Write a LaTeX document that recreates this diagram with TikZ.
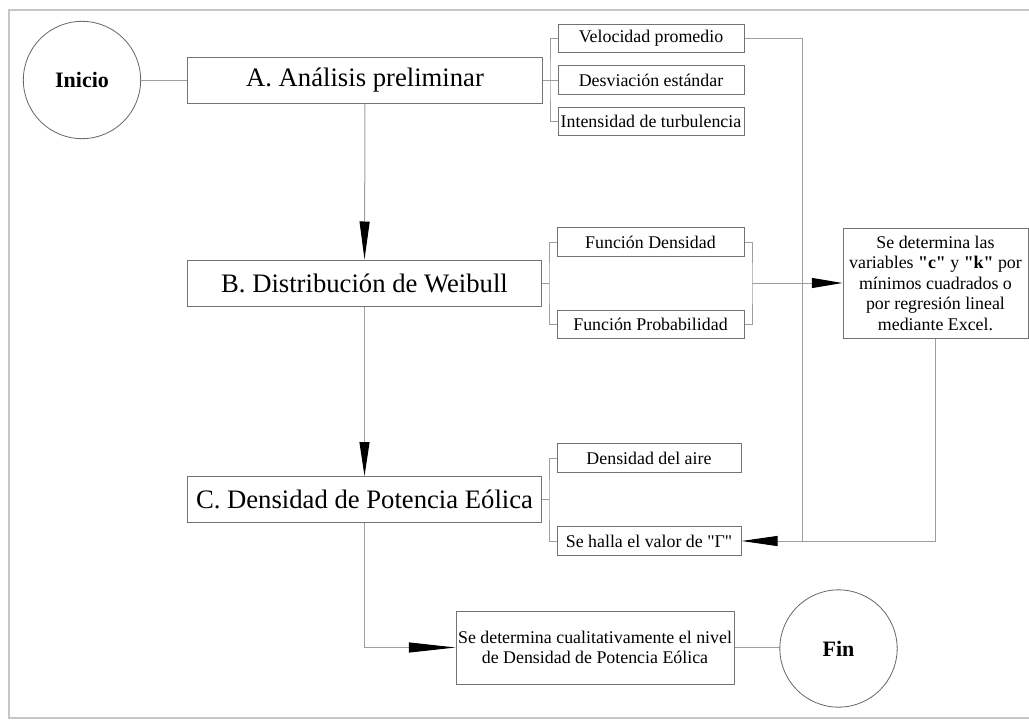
\documentclass[tikz,border=0pt]{standalone}
\usepackage{fontspec}
\setmainfont{Liberation Serif}
\usetikzlibrary{arrows.meta}
\newcommand{\sq}{\textquotedbl}
\begin{document}
\begin{tikzpicture}[x=0.75pt,y=-0.75pt,
  conn/.style={draw=black!38, line width=0.75pt},
  arrowto/.style={conn, -{Triangle[length=#1,width=7.5pt,color=black,fill=black]}},
  frameline/.style={draw=black!22, line width=1pt},
  box/.style={draw=black!55, line width=0.75pt, inner sep=0pt, align=center},
  bigbox/.style={box, minimum width=266pt, minimum height=34.5pt, font=\fontsize{20}{24}\selectfont},
  smallbox/.style={box, minimum width=139.5pt, minimum height=21.5pt, font=\fontsize{13.4}{15.4}\selectfont},
  endcircle/.style={circle, draw=black!60, line width=0.6pt, inner sep=0pt, minimum size=88pt, font=\fontsize{16.5}{18}\selectfont\bfseries}]
\useasboundingbox (0,0) rectangle (1029,721);
\draw[frameline] (1029,10) -- (9,10) -- (9,718) -- (1029,718);

% main nodes
\node[endcircle] (inicio) at (82,80) {Inicio};
\node[bigbox] (A) at (365,80) {A. Análisis preliminar};
\node[bigbox] (B) at (364.5,283) {B. Distribución de Weibull};
\node[bigbox] (C) at (364.5,499.5) {C. Densidad de Potencia Eólica};

% sub boxes
\node[smallbox] (vel) at (651,38.5) {Velocidad promedio};
\node[smallbox] (desv) at (651,80) {Desviación estándar};
\node[smallbox] (int) at (651,121.5) {Intensidad de turbulencia};
\node[smallbox, minimum width=140.25pt] (fden) at (650.5,242) {Función Densidad};
\node[smallbox, minimum width=140.25pt] (fprob) at (650.5,324.5) {Función Probabilidad};
\node[smallbox, minimum width=138pt] (daire) at (649,458) {Densidad del aire};
\node[smallbox, minimum width=138pt] (halla) at (649,541) {Se halla el valor de \sq Γ\sq};

\node[box, minimum width=138.75pt, minimum height=82.5pt, font=\fontsize{13.4}{15.4}\selectfont] (sedet) at (935.5,283)
  {Se determina las\\variables \textbf{\sq c\sq} y \textbf{\sq k\sq} por\\mínimos cuadrados o\\por regresión lineal\\mediante Excel.};
\node[box, minimum width=208.5pt, minimum height=54.75pt, font=\fontsize{13.4}{15}\selectfont] (final) at (595,647.5)
  {Se determina cualitativamente el nivel\\de Densidad de Potencia Eólica};
\node[endcircle] (fin) at (838.5,648.5) {Fin};

% junction coordinates
\coordinate (ja) at (550,80);
\coordinate (jb) at (549,283);
\coordinate (jc) at (549,499.5);
\coordinate (jr) at (752,283);
\coordinate (jv) at (802,541);

% connectors
\draw[conn] (inicio.east) -- (A.west);
\draw[conn] (A.east) -- (desv.west);
\draw[conn] (vel.west) -| (ja) |- (int.west);
\draw[conn] (vel.east) -| (jv);
\draw[arrowto=27pt] (sedet.south) |- (halla.east);

\draw[arrowto=28.5pt] (A.south) -- (B.north);
\draw[conn] (B.east) -- (jb);
\draw[conn] (fden.west) -| (jb) |- (fprob.west);
\draw[conn] (fden.east) -| (jr) |- (fprob.east);
\draw[arrowto=23pt] (jr) -- (sedet.west);

\draw[arrowto=25.5pt] (B.south) -- (C.north);
\draw[conn] (C.east) -- (jc);
\draw[conn] (daire.west) -| (jc) |- (halla.west);
\draw[arrowto=35pt] (C.south) |- (final.west);
\draw[conn] (final.east) -- (final.east -| fin.west);
\end{tikzpicture}
\end{document}
